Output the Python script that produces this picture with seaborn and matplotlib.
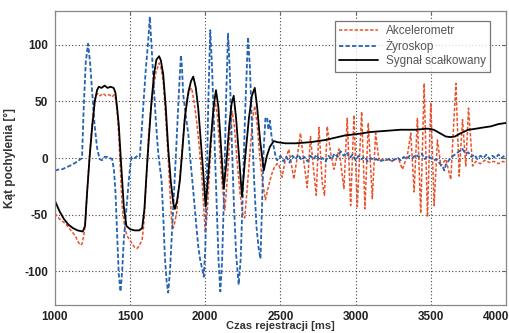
import matplotlib
matplotlib.use("Agg")
import matplotlib.pyplot as plt
import matplotlib.transforms as mtransforms
import seaborn as sns
import pandas as pd

# ---------------- data ----------------
integ_t = [1000, 1030, 1060, 1090, 1120, 1150, 1185, 1200, 1213, 1230, 1247, 1265, 1280, 1291,
           1310, 1330, 1350, 1370, 1390, 1402, 1413, 1424, 1440, 1458, 1475, 1500, 1530, 1560,
           1580, 1595, 1609, 1625, 1642, 1660, 1675, 1693, 1705, 1720, 1737, 1753, 1770, 1787,
           1798, 1812, 1831, 1848, 1864, 1887, 1905, 1920, 1937, 1953, 1970, 1987, 2002, 2020,
           2036, 2055, 2071, 2087, 2102, 2122, 2140, 2160, 2175, 2189, 2205, 2225, 2244, 2265,
           2290, 2310, 2329, 2345, 2365, 2389, 2410, 2430, 2456, 2480, 2533, 2600, 2700, 2800,
           2930, 3000, 3100, 3200, 3300, 3400, 3480, 3520, 3560, 3600, 3630, 3660, 3700, 3750,
           3780, 3850, 3900, 3950, 4000]
integ_v = [-38, -47, -54, -59, -62, -64, -65, -60, -32, 0, 27, 50, 60, 63,
           62, 64, 62, 63, 62, 58, 45, 30, -5, -43, -60, -63, -64, -64,
           -62, -45, -14, 18, 50, 75, 87, 90, 86, 74, 45, 9, -20, -40,
           -45, -38, -20, 8, 36, 58, 68, 72, 62, 44, 15, -14, -43, -15,
           15, 45, 60, 45, 15, -27, -5, 30, 48, 55, 35, 0, -34, 0,
           35, 55, 62, 45, 15, -11, 2, 10, 15, 14, 13, 13, 14, 16,
           20, 21, 23, 24, 25, 25, 26, 25, 22, 19, 18.5, 19, 22, 25,
           25.5, 27, 28, 30, 31]

accel_t = [1000, 1030, 1069, 1100, 1136, 1158, 1169, 1180, 1191, 1200, 1213, 1230, 1247, 1260,
           1270, 1285, 1300, 1320, 1340, 1360, 1380, 1395, 1405, 1415, 1424, 1435, 1447, 1465,
           1480, 1495, 1510, 1530, 1545, 1560, 1580, 1590, 1598, 1610, 1620, 1635, 1653, 1670,
           1693, 1705, 1720, 1737, 1753, 1765, 1776, 1787, 1795, 1809, 1825, 1842, 1860, 1876,
           1895, 1909, 1925, 1942, 1960, 1976, 1990, 2000, 2012, 2025, 2040, 2055, 2067, 2080,
           2095, 2110, 2129, 2140, 2155, 2165, 2178, 2192, 2210, 2230, 2250, 2262, 2280, 2300,
           2315, 2329, 2345, 2360, 2380, 2400, 2420, 2440, 2460, 2478, 2489, 2511, 2533, 2556,
           2589, 2611, 2633, 2656, 2678, 2700, 2718, 2738, 2756, 2778, 2793, 2811, 2833, 2856,
           2889, 2922, 2944, 2967, 2989, 3011, 3040, 3062, 3084, 3111, 3133, 3156, 3178, 3200,
           3222, 3244, 3266, 3289, 3311, 3344, 3367, 3389, 3411, 3433, 3456, 3478, 3500, 3522,
           3544, 3567, 3600, 3633, 3667, 3689, 3711, 3733, 3751, 3778, 3800, 3830, 3860, 3890,
           3920, 3950, 3980, 4000]
accel_v = [-49, -54, -58, -63, -69, -75, -77, -76, -69, -60, -32, 2, 30, 48,
           55, 57, 55, 57, 55, 56, 54, 56, 52, 38, 21, -10, -43, -62,
           -69, -72, -75, -79, -80, -78, -72, -60, -43, -15, 15, 40, 59, 75,
           84, 80, 68, 35, 1, -30, -55, -62, -58, -49, -25, 1, 30, 50,
           60, 62, 50, 33, 10, -14, -45, -66, -50, -20, 15, 40, 49, 38,
           10, -20, -46, -30, 0, 25, 41, 30, 0, -30, -50, -53, -25, 10,
           35, 46, 30, 5, -20, -37, -25, -15, -8, -5, -5.5, -17, -1, 7.7,
           -18.7, 0.3, 22, -4, -26, 19, -7, -33, 27, -22, -33, 28, 5, -10,
           8, -27, 35, -42, 38, -43, 41, -45, 31, -36, 22, -3, -1, -2,
           -1, -3, -1, -2, -10, 2, 22, -30, 35, -49, 66, -52, 49, -42,
           16, -7, -1, -19, 66, -16, 34, -7, 44, -7, -3, -5, -2, -4,
           -3, -5, -3, -4]

gyro_t = [1000, 1030, 1047, 1080, 1113, 1150, 1180, 1191, 1205, 1220, 1233, 1247, 1263, 1280,
          1297, 1313, 1330, 1347, 1365, 1380, 1392, 1402, 1413, 1424, 1436, 1447, 1458, 1475,
          1491, 1500, 1509, 1530, 1550, 1564, 1575, 1587, 1605, 1620, 1631, 1642, 1653, 1670,
          1687, 1698, 1709, 1720, 1731, 1742, 1753, 1765, 1776, 1792, 1809, 1825, 1838, 1845,
          1853, 1870, 1887, 1903, 1920, 1937, 1953, 1966, 1976, 1990, 2000, 2010, 2020, 2033,
          2045, 2060, 2075, 2088, 2100, 2112, 2125, 2138, 2151, 2162, 2175, 2190, 2205, 2222,
          2235, 2250, 2265, 2284, 2297, 2310, 2325, 2340, 2355, 2367, 2378, 2389, 2400, 2411,
          2420, 2430, 2440, 2455, 2470, 2478, 2500, 2520, 2540, 2560, 2580, 2600, 2620, 2640,
          2660, 2680, 2700, 2720, 2740, 2760, 2780, 2800, 2820, 2840, 2860, 2880, 2900, 2920,
          2940, 2960, 2980, 3000, 3020, 3040, 3060, 3080, 3100, 3120, 3140, 3160, 3180, 3200,
          3220, 3240, 3260, 3280, 3300, 3320, 3340, 3360, 3380, 3400, 3420, 3440, 3460, 3480,
          3500, 3520, 3540, 3560, 3580, 3590, 3600, 3620, 3640, 3660, 3680, 3700, 3711, 3730,
          3750, 3770, 3790, 3810, 3830, 3850, 3870, 3890, 3910, 3930, 3950, 3970, 3990, 4000]
gyro_v = [-11, -10, -10, -8, -6, -3, 0, 44, 85, 101, 85, 59, 30, 9,
          -1, -2, 1, 1, 0, -1, -10, -29, -65, -102, -118, -100, -72, -45,
          -20, -8, 1, 0, 2, 1, 20, 45, 80, 103, 125, 100, 74, 35,
          4, -8, -20, -50, -87, -108, -119, -100, -72, -30, 15, 60, 91, 80,
          56, 38, 21, -5, -29, -55, -78, -90, -96, -105, -80, -20, 50, 113,
          80, 20, -40, -90, -118, -90, -30, 50, 110, 80, 20, -40, -85, -112,
          -90, -30, 40, 107, 80, 30, -20, -60, -80, -89, -40, 10, 35, 36,
          25, 33, 20, 10, 0, -2, 2, -3, 1, -4, 2, -1, 3, -2,
          1, -3, 2, -1, 3, -2, 0, -3, 2, -1, 4, 1, 6, 2,
          5, 0, 3, -2, 2, -1, 1, -3, 0, -2, -1, -3, -2, -2,
          -1, -3, -1, 0, -2, 1, -1, 2, 0, 3, 1, 4, -1, 2,
          0, -2, -1, -5, -8, -11, -6, -2, 1, 3, 5, 7, 8, 4,
          5, 1, 3, -1, 2, 0, 3, -1, 2, 0, 3, 0, 2, 1]

labels = ["Akcelerometr", "Żyroskop", "Sygnał scałkowany"]
x_ticks = [1000, 1500, 2000, 2500, 3000, 3500, 4000]
y_ticks = [-100, -50, 0, 50, 100]

# ---------------- plot ----------------
sns.set_style("white")
plt.rcParams['font.family'] = ['Liberation Sans', 'DejaVu Sans']

fig = plt.figure(figsize=(5.09, 3.33), dpi=100)
ax = fig.add_axes([0.108, 0.084, 0.886, 0.883])

df_a = pd.DataFrame({"t": accel_t, "v": accel_v})
df_g = pd.DataFrame({"t": gyro_t, "v": gyro_v})
df_i = pd.DataFrame({"t": integ_t, "v": integ_v})

sns.lineplot(data=df_a, x="t", y="v", ax=ax, color="#e8532b", lw=1.1,
             estimator=None, sort=False, label=labels[0], dashes=False)
ax.lines[-1].set_dashes((2.2, 1.2))
sns.lineplot(data=df_g, x="t", y="v", ax=ax, color="#2563b3", lw=1.3,
             estimator=None, sort=False, label=labels[1], dashes=False)
ax.lines[-1].set_dashes((2.4, 1.2))
sns.lineplot(data=df_i, x="t", y="v", ax=ax, color="black", lw=1.3,
             estimator=None, sort=False, label=labels[2])

ax.set_xlim(1000, 4000)
ax.set_ylim(-130, 130)
ax.set_xticks(x_ticks)
ax.set_yticks(y_ticks)
ax.set_xticklabels([str(v) for v in x_ticks], fontsize=8.5, fontweight='bold', color='#222222')
ax.set_yticklabels([str(v) for v in y_ticks], fontsize=8.5, fontweight='bold', color='#222222')
ax.grid(True, color='#444444', linestyle=(0, (1, 2)), linewidth=0.8)
ax.tick_params(direction='in', length=3, color='#666666', top=True, right=True)
ax.tick_params(axis='x', pad=4)
ax.tick_params(axis='y', pad=5)
for s in ax.spines.values():
    s.set_color('#888888')
    s.set_linewidth(0.9)

# keep the last x tick label inside the figure
last = ax.get_xticklabels()[-1]
last.set_transform(last.get_transform() + mtransforms.ScaledTranslation(-10 / 100, 0, fig.dpi_scale_trans))

ax.set_xlabel("Czas rejestracji [ms]", fontsize=8, fontweight='bold', color='#333333', labelpad=-1)
ax.set_ylabel("Kąt pochylenia [°]", fontsize=8.5, fontweight='bold', color='#333333', labelpad=6)

leg = ax.legend(loc='upper right', bbox_to_anchor=(0.965, 0.967), fontsize=8.5,
                frameon=True, fancybox=False, handlelength=3.3, borderpad=0.35,
                labelspacing=0.2, handletextpad=0.7, borderaxespad=0)
leg.get_frame().set_edgecolor('#555555')
leg.get_frame().set_linewidth(0.9)
for txt in leg.get_texts():
    txt.set_color('#555555')

fig.savefig("out.png", dpi=100)
